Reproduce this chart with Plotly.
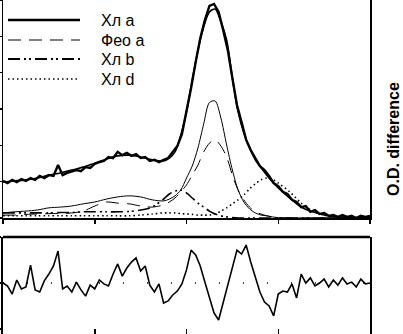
import plotly.graph_objects as go

# ---------------- data ----------------
wl_meas = list(range(580, 741, 2))
od_meas = [0.102, 0.096, 0.105, 0.099, 0.107, 0.102, 0.110, 0.105, 0.116, 0.110,
           0.118, 0.116, 0.146, 0.118, 0.124, 0.127, 0.132, 0.129, 0.140, 0.138,
           0.149, 0.154, 0.157, 0.168, 0.165, 0.182, 0.173, 0.179, 0.171, 0.176,
           0.165, 0.168, 0.157, 0.160, 0.154, 0.160, 0.165, 0.182, 0.198, 0.231,
           0.292, 0.358, 0.429, 0.495, 0.545, 0.584, 0.589, 0.567, 0.517, 0.462,
           0.385, 0.311, 0.264, 0.215, 0.187, 0.165, 0.143, 0.132, 0.116, 0.096,
           0.088, 0.072, 0.066, 0.050, 0.044, 0.030, 0.033, 0.017, 0.022, 0.011,
           0.014, 0.006, 0.008, 0.003, 0.008, 0.003, 0.006, 0.000, 0.006, 0.003,
           0.006]

wl_fit = [580, 585, 590, 595, 600, 605, 610, 615, 620, 625, 630, 635, 640, 645,
          650, 652.5, 655, 657.5, 660, 662.5, 665, 667.5, 670, 672.5, 675, 677.5,
          680, 682.5, 685, 687.5, 690, 692.5, 695, 697.5, 700,
          705, 710, 715, 720, 725, 730, 735, 740]
od_fit = [0.099, 0.102, 0.105, 0.110, 0.118, 0.124, 0.132, 0.140, 0.151, 0.162,
          0.171, 0.173, 0.168, 0.160,
          0.157, 0.165, 0.182, 0.228, 0.292, 0.380, 0.462, 0.526, 0.567, 0.575,
          0.540, 0.490, 0.385, 0.292, 0.234, 0.193, 0.160, 0.138, 0.118, 0.099, 0.083,
          0.055, 0.030, 0.017, 0.008, 0.003, 0.003, 0.001, 0.001]
chl_a = [0.014, 0.017, 0.019, 0.022, 0.028, 0.030, 0.033, 0.039, 0.044, 0.052,
         0.058, 0.061, 0.058, 0.050,
         0.047, 0.052, 0.061, 0.077, 0.110, 0.143, 0.193, 0.259, 0.318, 0.322,
         0.275, 0.201, 0.132, 0.077, 0.044, 0.025, 0.014, 0.008, 0.006, 0.003, 0.001,
         0, 0, 0, 0, 0, 0, 0, 0]
pheo_a = [0.008, 0.008, 0.010, 0.011, 0.012, 0.013, 0.014, 0.019, 0.033, 0.044,
          0.041, 0.039, 0.033, 0.030,
          0.036, 0.044, 0.055, 0.072, 0.091, 0.118, 0.146, 0.182, 0.206, 0.215,
          0.198, 0.168, 0.118, 0.077, 0.050, 0.030, 0.017, 0.011, 0.006, 0.003, 0.001,
          0, 0, 0, 0, 0, 0, 0, 0]
chl_b = [0.014, 0.014, 0.014, 0.014, 0.014, 0.015, 0.015, 0.017, 0.017, 0.017,
         0.017, 0.018, 0.022, 0.030,
         0.052, 0.066, 0.074, 0.077, 0.069, 0.055, 0.041, 0.030, 0.019, 0.011,
         0.006, 0.003, 0.001, 0, 0, 0, 0, 0, 0, 0, 0,
         0, 0, 0, 0, 0, 0, 0, 0]
chl_d = [0.006, 0.006, 0.006, 0.006, 0.006, 0.006, 0.006, 0.006, 0.006, 0.006,
         0.006, 0.006, 0.008, 0.011,
         0.014, 0.014, 0.014, 0.012, 0.011, 0.010, 0.008, 0.008, 0.008, 0.011,
         0.019, 0.028, 0.039, 0.050, 0.063, 0.080, 0.094, 0.105, 0.110, 0.107, 0.096,
         0.072, 0.041, 0.019, 0.008, 0.004, 0.003, 0.001, 0.001]

od_diff = [0, -1.3, -4.8, 1.3, -2.6, -1.7, 7.8, -3.0, -3.9, 0.9,
           3.9, 7.4, 13.9, -2.6, -1.3, -3.9, 0.4, -3.0, -5.7, -0.9,
           -2.6, 1.3, -0.4, -1.3, 3.9, 8.3, 3.0, 6.5, 9.1, 10.9,
           5.2, 7.4, -0.9, -3.9, -0.4, -8.7, -7.8, -5.2, -3.5, -0.4,
           5.7, 14.3, 12.2, 7.4, 0.4, -6.1, -13.0, -16.1, -8.3, -0.9,
           7.8, 14.3, 12.6, 16.5, 9.1, 3.0, -3.9, -8.3, -10.0, -14.3,
           -4.8, -3.5, -3.9, -0.4, -6.5, 3.9, 0, 2.2, -1.3, 0,
           1.7, -1.7, 1.3, -0.9, 2.2, -0.4, 0.4, -1.7, 1.7, -0.4,
           0]

legend_names = ["Хл a", "Фео a", "Хл b", "Хл d"]

# ---------------- styles ----------------
FONT = "Liberation Sans, Arial, sans-serif"
DASHED = "13px,8px"
DASHDOT = "12px,4px,2px,3px,2px,4px"
DOTTED = "1.5px,3px"

fig = go.Figure()

comp = [
    (chl_a, "solid", 1.0),
    (pheo_a, DASHED, 1.0),
    (chl_b, DASHDOT, 1.6),
    (chl_d, DOTTED, 1.6),
]
for vals, dash, w in comp:
    fig.add_trace(go.Scatter(x=wl_fit, y=vals, mode="lines",
                             line=dict(color="black", width=w, dash=dash, shape="spline", smoothing=0.8),
                             xaxis="x", yaxis="y", showlegend=False, hoverinfo="skip"))

fig.add_trace(go.Scatter(x=wl_fit, y=od_fit, mode="lines",
                         line=dict(color="black", width=1.6, shape="spline", smoothing=0.8),
                         xaxis="x", yaxis="y", showlegend=False))
fig.add_trace(go.Scatter(x=wl_meas, y=od_meas, mode="lines",
                         line=dict(color="black", width=2.4),
                         xaxis="x", yaxis="y", showlegend=False))

fig.add_trace(go.Scatter(x=wl_meas, y=od_diff, mode="lines",
                         line=dict(color="black", width=1.6),
                         xaxis="x2", yaxis="y2", showlegend=False))

H = 334.0
W_PLOT = 367.0
top_dom = [1 - 218 / H, 1]
bot_dom = [0, (H - 237) / H]

axis_common = dict(showgrid=False, zeroline=False, showticklabels=False,
                   linecolor="black", tickcolor="black", automargin=False)

fig.update_layout(
    width=403, height=334,
    margin=dict(l=3, r=33, t=0, b=0, pad=0, autoexpand=False),
    paper_bgcolor="white", plot_bgcolor="white",
    xaxis=dict(domain=[0, 1], range=[580, 740], anchor="y", showline=True, linewidth=1.5,
               ticks="outside", ticklen=4, tickwidth=1.5,
               tickvals=[580, 620, 660, 700, 740], **axis_common),
    yaxis=dict(domain=top_dom, range=[0, 0.6], anchor="x", showline=True, linewidth=1.5,
               mirror=True, ticks="outside", ticklen=3, tickwidth=1.5,
               tickvals=[0, 0.1, 0.2, 0.3, 0.4, 0.5, 0.6], **axis_common),
    xaxis2=dict(domain=[0, 1], range=[580, 740], anchor="y2", showline=False,
                ticks="inside", ticklen=5, tickwidth=1.5,
                tickvals=[620, 660, 700], **axis_common),
    yaxis2=dict(domain=bot_dom, range=[-22.17, 20], anchor="x2", showline=True, linewidth=2,
                mirror=True, ticks="outside", ticklen=3, tickwidth=1.5,
                tickvals=[-20, 0, 20], **axis_common),
    showlegend=False,
    hovermode=False,
)

shapes = [
    dict(type="line", xref="x2 domain", yref="y2 domain", x0=0, x1=1, y0=1, y1=1,
         line=dict(color="black", width=2.5)),
    dict(type="line", xref="x2 domain", yref="y2", x0=0, x1=1, y0=0, y1=0,
         line=dict(color="black", width=1.5, dash="1px,23px"), layer="below"),
]

# manual legend
leg_y_px = [20, 40, 59, 79]
leg_styles = [("solid", 2.5), (DASHED, 1.0), (DASHDOT, 2.0), (DOTTED, 1.5)]
annotations = []
for name, ypx, (dash, w) in zip(legend_names, leg_y_px, leg_styles):
    yp = 1 - ypx / H
    shapes.append(dict(type="line", xref="paper", yref="paper",
                       x0=(8 - 3) / W_PLOT, x1=(80 - 3) / W_PLOT, y0=yp, y1=yp,
                       line=dict(color="black", width=w, dash=dash)))
    annotations.append(dict(text=name, xref="paper", yref="paper",
                            x=(99 - 3) / W_PLOT, y=yp, xanchor="left", yanchor="middle",
                            showarrow=False, font=dict(family=FONT, size=16, color="black")))

annotations.append(dict(text="<b>O.D. difference</b>", xref="paper", yref="paper",
                        x=(393 - 3) / W_PLOT, y=1 - 139 / H, xanchor="center", yanchor="middle",
                        textangle=-90, showarrow=False,
                        font=dict(family=FONT, size=16, color="black")))

fig.update_layout(shapes=shapes, annotations=annotations)

fig.write_html("out.html",
               config={"displayModeBar": False, "staticPlot": True},
               post_script="document.body.style.margin='0';document.body.style.padding='0';"
                           "document.documentElement.style.overflow='hidden';")
